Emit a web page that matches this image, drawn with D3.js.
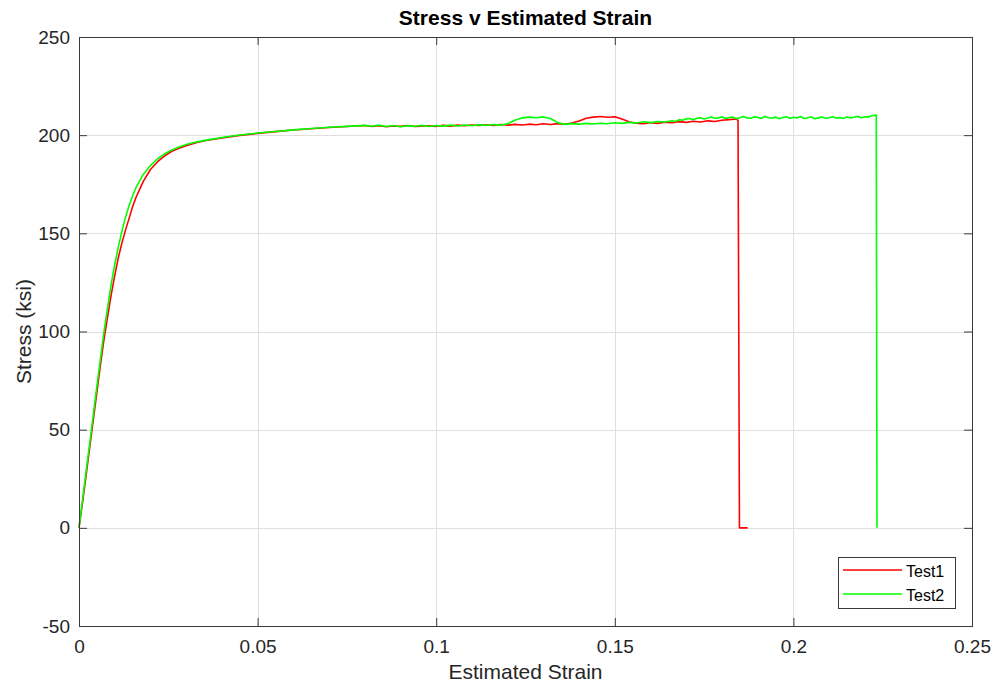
<!DOCTYPE html>
<html>
<head>
<meta charset="utf-8">
<script src="https://cdn.jsdelivr.net/npm/d3@7"></script>
<style>
  html, body { margin: 0; padding: 0; background: #fff; }
  svg { display: block; font-family: "Liberation Sans", Arial, Helvetica, sans-serif; }
</style>
</head>
<body>
<svg id="chart" width="996" height="688"></svg>
<script>
// Test 1 (red): estimated strain and stress in ksi
const test1Strain = [0, 0.001, 0.002, 0.003, 0.004, 0.005, 0.006, 0.007, 0.008, 0.009, 0.010, 0.011, 0.012, 0.013, 0.014, 0.015, 0.016, 0.018, 0.020, 0.022, 0.024, 0.026, 0.028, 0.030, 0.033, 0.036, 0.040, 0.045, 0.050, 0.055, 0.060, 0.065, 0.070, 0.075,
  0.080, 0.082, 0.084, 0.086, 0.088, 0.090, 0.092, 0.094, 0.096, 0.098, 0.100, 0.102, 0.104, 0.106, 0.108, 0.110, 0.112, 0.114, 0.116, 0.118, 0.120, 0.122, 0.124, 0.126, 0.128, 0.130, 0.132, 0.134, 0.136, 0.138, 0.140, 0.142, 0.144, 0.146, 0.148, 0.150, 0.152, 0.154, 0.156, 0.158, 0.160, 0.162, 0.164, 0.166, 0.168, 0.170, 0.172, 0.174, 0.176, 0.178, 0.180, 0.182, 0.184, 0.1845, 0.1849, 0.1872];
const test1Stress = [0, 13, 27, 41, 55, 69, 83, 96, 107.5, 118.5, 128.5, 137.5, 145, 151.5, 157.5, 163.5, 168.5, 176.5, 182.5, 186.5, 189.5, 191.8, 193.3, 194.6, 196.3, 197.4, 198.6, 199.9, 200.9, 201.8, 202.6, 203.3, 203.9, 204.4,
  204.9, 204.4, 204.8, 204.3, 204.7, 204.5, 204.9, 204.4, 204.6, 204.8, 204.5, 205.0, 204.6, 205.1, 204.8, 205.2, 204.9, 205.3, 205.0, 205.4, 205.1, 205.5, 205.2, 205.6, 205.3, 205.8, 205.4, 205.9, 205.6, 206.2, 207.2, 208.6, 209.2, 209.5, 209.1, 209.4, 208.2, 206.8, 206.1, 205.8, 206.3, 206.0, 206.6, 206.3, 206.9, 206.5, 207.1, 206.7, 207.3, 207.0, 207.6, 207.9, 208.2, 207.5, 0, 0];

// Test 2 (green): estimated strain and stress in ksi
const test2Strain = [0, 0.001, 0.002, 0.003, 0.004, 0.005, 0.006, 0.007, 0.008, 0.009, 0.010, 0.011, 0.012, 0.013, 0.014, 0.015, 0.016, 0.018, 0.020, 0.022, 0.024, 0.026, 0.028, 0.030, 0.033, 0.036, 0.040, 0.045, 0.050, 0.055, 0.060, 0.065, 0.070, 0.075,
  0.080, 0.082, 0.084, 0.086, 0.088, 0.090, 0.092, 0.094, 0.096, 0.098, 0.100, 0.102, 0.104, 0.106, 0.108, 0.110, 0.112, 0.114, 0.116, 0.118, 0.120, 0.122, 0.124, 0.126, 0.128, 0.130, 0.132, 0.134, 0.136, 0.138, 0.140, 0.142, 0.144, 0.146, 0.148, 0.150, 0.152, 0.154, 0.156, 0.158, 0.160, 0.162, 0.164,
  0.166, 0.167, 0.168, 0.169, 0.170, 0.171, 0.172, 0.173, 0.174, 0.175, 0.176, 0.177, 0.178, 0.179, 0.180, 0.181, 0.182, 0.183, 0.184, 0.185, 0.186, 0.187, 0.188, 0.189, 0.190, 0.191, 0.192, 0.193, 0.194, 0.195, 0.196, 0.197, 0.198, 0.199, 0.200, 0.201, 0.202, 0.203, 0.204, 0.205, 0.206, 0.207, 0.208, 0.209, 0.210, 0.211, 0.212, 0.213, 0.214, 0.215, 0.216, 0.217, 0.218, 0.219, 0.220, 0.221, 0.222, 0.2232, 0.2234];
const test2Stress = [0, 14.5, 29, 43, 57.5, 72, 86, 100, 112, 124, 134, 143, 151, 158, 164, 169, 173.5, 180, 184.5, 188, 190.5, 192.5, 194, 195.2, 196.6, 197.6, 198.8, 200.1, 201.1, 201.9, 202.7, 203.4, 204.0, 204.5,
  205.0, 204.5, 205.1, 204.4, 204.9, 204.3, 204.8, 204.5, 205.0, 204.4, 204.9, 204.6, 205.1, 204.7, 205.2, 204.8, 205.3, 205.0, 205.4, 205.1, 205.8, 207.6, 208.8, 209.2, 208.9, 209.3, 208.5, 206.4, 205.5, 205.9, 205.6, 206.0, 205.7, 206.1, 205.8, 206.3, 206.0, 206.5, 206.2, 206.8, 206.4, 207.0, 206.7,
  207.3, 207.0, 207.9, 207.6, 208.3, 208.5, 207.9, 208.6, 208.9, 208.2, 208.7, 209.3, 208.6, 208.8, 209.4, 208.5, 209.0, 209.2, 208.4, 208.9, 209.5, 208.8, 208.6, 209.3, 209.1, 208.5, 209.6, 208.9, 208.7, 209.2, 208.4, 209.0, 209.4, 208.6, 209.1, 208.8, 209.5, 208.5, 208.9, 209.3, 208.4, 208.8, 209.2, 208.6, 208.9, 209.4, 208.7, 209.0, 208.5, 209.3, 208.8, 209.1, 209.6, 208.9, 209.4, 209.2, 209.9, 210.2, 0];

const seriesNames = ["Test1", "Test2"];
const seriesColors = ["#ff0000", "#00ff00"];
const xTicks = [0, 0.05, 0.1, 0.15, 0.2, 0.25];
const xTickLabels = ["0", "0.05", "0.1", "0.15", "0.2", "0.25"];
const yTicks = [-50, 0, 50, 100, 150, 200, 250];
const yTickLabels = ["-50", "0", "50", "100", "150", "200", "250"];

const svg = d3.select("#chart");
const plotLeft = 79, plotRight = 972, plotTop = 37, plotBottom = 626;
const textColor = "#262626";
const axisLineColor = "#3a3a3a";

const x = d3.scaleLinear().domain([0, 0.25]).range([plotLeft, plotRight]);
const y = d3.scaleLinear().domain([-50, 250]).range([plotBottom, plotTop]);

// grid lines
const grid = svg.append("g").attr("stroke", "#dfdfdf").attr("stroke-width", 1);
xTicks.slice(1, -1).forEach(t => {
  grid.append("line").attr("x1", Math.round(x(t)) + 0.5).attr("x2", Math.round(x(t)) + 0.5)
    .attr("y1", plotTop).attr("y2", plotBottom);
});
yTicks.slice(1, -1).forEach(t => {
  grid.append("line").attr("y1", Math.round(y(t)) + 0.5).attr("y2", Math.round(y(t)) + 0.5)
    .attr("x1", plotLeft).attr("x2", plotRight);
});

// axes: bottom/left with labels, top/right mirrored ticks only, all ticks pointing inward
const tickLen = 8;
const xAxisBottom = d3.axisBottom(x).tickValues(xTicks).tickSize(-tickLen).tickPadding(14)
  .tickFormat((d, i) => xTickLabels[i]);
const xAxisTop = d3.axisTop(x).tickValues(xTicks).tickSize(-tickLen).tickFormat("");
const yAxisLeft = d3.axisLeft(y).tickValues(yTicks).tickSize(-tickLen).tickPadding(9)
  .tickFormat((d, i) => yTickLabels[i]);
const yAxisRight = d3.axisRight(y).tickValues(yTicks).tickSize(-tickLen).tickFormat("");

function styleAxis(g) {
  g.select(".domain").attr("stroke", axisLineColor).attr("stroke-width", 1);
  g.selectAll(".tick line").attr("stroke", axisLineColor);
  g.selectAll(".tick text").attr("fill", textColor).style("font-size", "19px")
    .style("font-family", "'Liberation Sans', Arial, sans-serif");
}

// data lines
const lineGen = d3.line().x(d => x(d[0])).y(d => y(d[1]));
const series = [
  d3.zip(test1Strain, test1Stress),
  d3.zip(test2Strain, test2Stress)
];
const plot = svg.append("g");
series.forEach((data, i) => {
  plot.append("path").datum(data)
    .attr("fill", "none")
    .attr("stroke", seriesColors[i])
    .attr("stroke-width", 1.6)
    .attr("stroke-linejoin", "round")
    .attr("d", lineGen);
});

svg.append("g").attr("transform", `translate(0,${plotBottom})`).call(xAxisBottom).call(styleAxis);
svg.append("g").attr("transform", `translate(0,${plotTop})`).call(xAxisTop).call(styleAxis);
svg.append("g").attr("transform", `translate(${plotLeft},0)`).call(yAxisLeft).call(styleAxis);
svg.append("g").attr("transform", `translate(${plotRight},0)`).call(yAxisRight).call(styleAxis);
svg.selectAll(".domain").attr("shape-rendering", "crispEdges");

// title and axis labels
svg.append("text").attr("x", (plotLeft + plotRight) / 2).attr("y", 25)
  .attr("text-anchor", "middle").attr("font-weight", "bold")
  .attr("font-size", 21).attr("fill", "#000")
  .text("Stress v Estimated Strain");
svg.append("text").attr("x", (plotLeft + plotRight) / 2).attr("y", 679)
  .attr("text-anchor", "middle").attr("font-size", 21).attr("fill", textColor)
  .text("Estimated Strain");
svg.append("text").attr("transform", `translate(31,${(plotTop + plotBottom) / 2}) rotate(-90)`)
  .attr("text-anchor", "middle").attr("font-size", 21).attr("fill", textColor)
  .text("Stress (ksi)");

// legend
const legend = svg.append("g");
legend.append("rect").attr("x", 838.5).attr("y", 557.5).attr("width", 117).attr("height", 51)
  .attr("fill", "#fff").attr("stroke", axisLineColor).attr("stroke-width", 1);
seriesNames.forEach((name, i) => {
  const ly = 570 + i * 24;
  legend.append("line").attr("x1", 843).attr("x2", 902).attr("y1", ly).attr("y2", ly)
    .attr("stroke", seriesColors[i]).attr("stroke-width", 1.6);
  legend.append("text").attr("x", 906).attr("y", ly + 7)
    .attr("font-size", 16).attr("fill", "#000").text(name);
});
</script>
</body>
</html>
